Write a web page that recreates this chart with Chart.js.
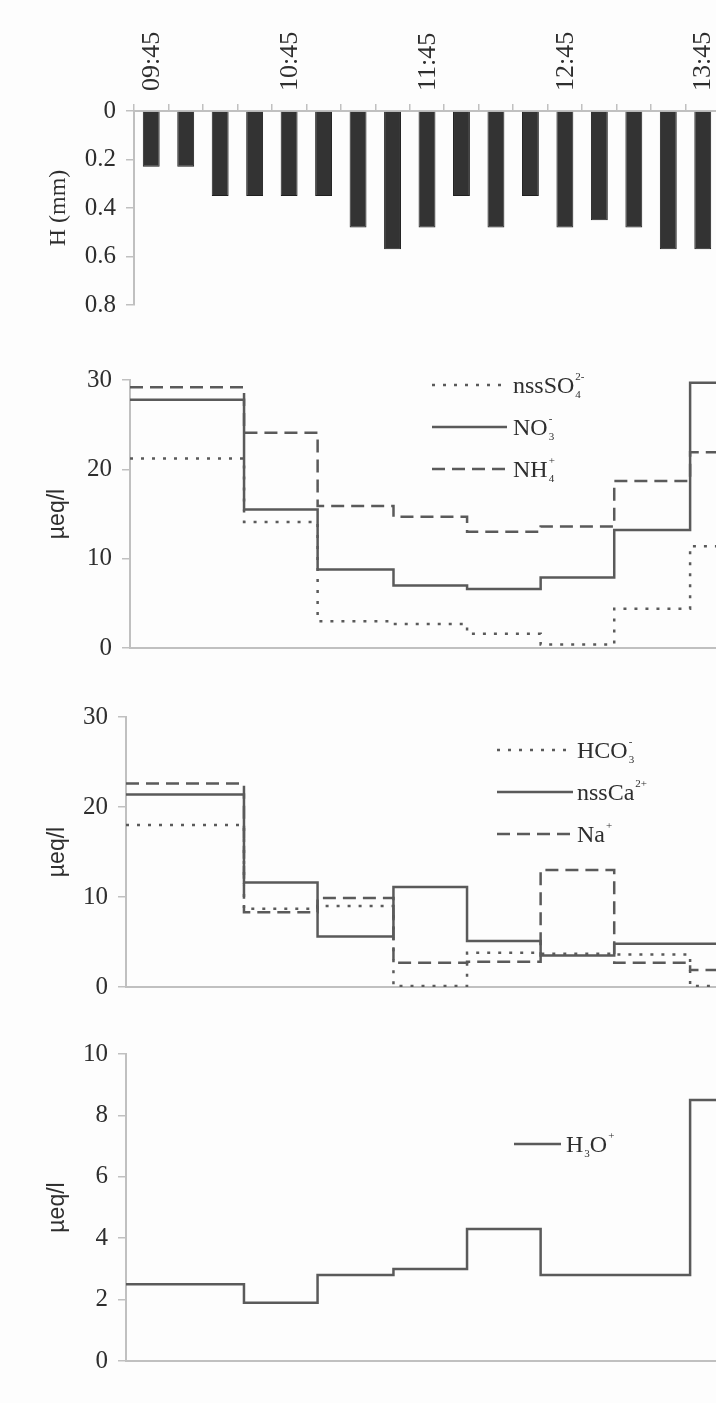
<!DOCTYPE html>
<html>
<head>
<meta charset="utf-8">
<script src="https://cdn.jsdelivr.net/npm/chart.js@4.4.1/dist/chart.umd.min.js"></script>
<style>
  html, body { margin: 0; padding: 0; background: #fdfdfd; overflow: hidden; }
  #wrap { position: relative; width: 716px; height: 1403px; overflow: hidden; }
  canvas { position: absolute; left: 0; }
</style>
</head>
<body>
<div id="wrap">
  <canvas id="rainChart" width="720" height="330" style="top:0px"></canvas>
  <canvas id="nChart" width="720" height="350" style="top:330px"></canvas>
  <canvas id="caChart" width="720" height="340" style="top:680px"></canvas>
  <canvas id="hChart" width="720" height="383" style="top:1020px"></canvas>
</div>
<script>
// ==============================
// DATA
// ==============================
const barTimes = ['09:45', '10:00', '10:15', '10:30', '10:45', '11:00', '11:15', '11:30', '11:45',
                  '12:00', '12:15', '12:30', '12:45', '13:00', '13:15', '13:30', '13:45'];
const rainMm = [0.23, 0.23, 0.35, 0.35, 0.35, 0.35, 0.48, 0.57, 0.48,
                0.35, 0.48, 0.35, 0.48, 0.45, 0.48, 0.57, 0.57];

// sample changes, minutes after 09:45
const sampleEdges = [40, 72, 105, 137, 169, 201, 234];

const nssSO4 = [21.2, 14.1, 3.0, 2.7, 1.6, 0.4, 4.4, 11.4];
const NO3 = [27.8, 15.5, 8.8, 7.0, 6.6, 7.9, 13.2, 29.7];
const NH4 = [29.2, 24.1, 15.9, 14.7, 13.0, 13.6, 18.7, 21.9];

const HCO3 = [18.0, 8.7, 9.0, 0.1, 3.8, 3.7, 3.6, 0.1];
const nssCa = [21.4, 11.6, 5.6, 11.1, 5.1, 3.5, 4.8, 4.8];
const Na = [22.6, 8.3, 9.9, 2.7, 2.8, 13.0, 2.7, 1.9];

const H3O = [2.5, 1.9, 2.8, 3.0, 4.3, 2.8, 2.8, 8.5];

// ==============================
// STYLE
// ==============================
const serif = "'Liberation Serif', 'Times New Roman', serif";
const sans = "'Liberation Sans', Arial, sans-serif";
const axisGray = '#c0c0c0';
const lineGray = '#5a5a5a';
const textGray = '#2e2e2e';
const SOLID = [];
const DASHED = [13, 7];
const DOTTED = [3, 8];

Chart.defaults.animation = false;
Chart.defaults.font.family = serif;
Chart.defaults.color = textGray;

// ==============================
// HELPERS
// ==============================
function stepPoints(values, xMin, xMax) {
    const pts = [{ x: xMin, y: values[0] }];
    sampleEdges.forEach((edge, i) => pts.push({ x: edge, y: values[i + 1] }));
    pts.push({ x: xMax, y: values[values.length - 1] });
    return pts;
}

function stepDataset(label, legendText, values, dash, xMin, xMax) {
    return {
        label: label,
        legendText: legendText,
        data: stepPoints(values, xMin, xMax),
        stepped: true,
        borderColor: lineGray,
        borderWidth: 2.5,
        borderDash: dash,
        pointRadius: 0,
        fill: false
    };
}

// "NO_{3}^{-}" -> text with stacked sub/superscript
function drawIonLabel(ctx, markup, x, y) {
    const parts = markup.split(/([_^]\{[^}]*\})/).filter(Boolean);
    const base = y + 8;
    let cursor = x;
    let scriptStart = null;
    let scriptEnd = x;
    ctx.save();
    ctx.fillStyle = textGray;
    ctx.textBaseline = 'alphabetic';
    ctx.textAlign = 'left';
    parts.forEach(p => {
        if (p[0] === '_' || p[0] === '^') {
            const txt = p.slice(2, -1);
            ctx.font = `11px ${serif}`;
            if (scriptStart === null) scriptStart = cursor + 1;
            ctx.fillText(txt, scriptStart, p[0] === '_' ? base + 5 : base - 13);
            scriptEnd = Math.max(scriptEnd, scriptStart + ctx.measureText(txt).width);
        } else {
            if (scriptStart !== null) { cursor = scriptEnd; scriptStart = null; }
            ctx.font = `24px ${serif}`;
            ctx.fillText(p, cursor, base);
            cursor += ctx.measureText(p).width;
        }
    });
    ctx.restore();
}

const legendLines = {
    id: 'legendLines',
    afterDatasetsDraw(chart, args, opts) {
        if (!opts || !opts.rows) return;
        const ctx = chart.ctx;
        chart.data.datasets.forEach((ds, i) => {
            const y = opts.rows[i];
            ctx.save();
            ctx.strokeStyle = ds.borderColor;
            ctx.lineWidth = ds.borderWidth;
            ctx.setLineDash(ds.borderDash || []);
            ctx.beginPath();
            ctx.moveTo(opts.x0, y);
            ctx.lineTo(opts.x1, y);
            ctx.stroke();
            ctx.restore();
            drawIonLabel(ctx, ds.legendText, opts.textX, y);
        });
    }
};
Chart.register(legendLines);

function stepOptions(cfg) {
    return {
        responsive: false,
        animation: false,
        layout: { padding: { top: cfg.padTop, bottom: cfg.padBottom, left: 0, right: 0 } },
        plugins: {
            legend: { display: false },
            tooltip: { enabled: false },
            legendLines: cfg.legend
        },
        scales: {
            x: {
                type: 'linear',
                min: cfg.xMin,
                max: cfg.xMax,
                ticks: { display: false },
                grid: { display: false },
                border: { display: true, color: axisGray, width: 2 },
                afterFit: s => { s.height = 0; }
            },
            y: {
                min: 0,
                max: cfg.yMax,
                ticks: { stepSize: cfg.yStep, padding: 10, font: { size: 25 }, color: textGray },
                grid: { drawOnChartArea: false, drawTicks: true, tickLength: 8, color: axisGray, lineWidth: 1.5 },
                border: { display: true, color: axisGray, width: 2 },
                title: {
                    display: true,
                    text: 'µeq/l',
                    font: { family: sans, size: 23 },
                    color: textGray,
                    padding: { top: 44, bottom: 0 }
                },
                afterFit: s => { s.width = cfg.axisX; }
            }
        }
    };
}

// ==============================
// RAINFALL BARS
// ==============================
new Chart(document.getElementById('rainChart'), {
    type: 'bar',
    data: {
        labels: barTimes,
        datasets: [{
            label: 'H (mm)',
            data: rainMm,
            backgroundColor: '#333333',
            borderColor: '#1f1f1f',
            borderWidth: 1,
            barPercentage: 0.49,
            categoryPercentage: 1
        }]
    },
    options: {
        responsive: false,
        layout: { padding: { top: 0, bottom: 23, left: 0, right: 0 } },
        plugins: { legend: { display: false }, tooltip: { enabled: false } },
        scales: {
            x: {
                position: 'top',
                ticks: {
                    autoSkip: false,
                    minRotation: 90,
                    maxRotation: 90,
                    padding: 13,
                    labelOffset: 32,
                    font: { size: 26 },
                    color: textGray,
                    callback: (v, i) => (i % 4 === 0 ? barTimes[i] : '')
                },
                grid: { offset: true, drawOnChartArea: false, drawTicks: true, tickLength: 7, color: axisGray, lineWidth: 1.5 },
                border: { display: true, color: axisGray, width: 2 },
                afterFit: s => { s.height = 111; s.paddingLeft = 0; s.paddingRight = 0; }
            },
            y: {
                reverse: true,
                min: 0,
                max: 0.8,
                ticks: { stepSize: 0.2, padding: 10, font: { size: 25 }, color: textGray },
                grid: { drawOnChartArea: false, drawTicks: true, tickLength: 8, color: axisGray, lineWidth: 1.5 },
                border: { display: true, color: axisGray, width: 2 },
                title: {
                    display: true,
                    text: 'H (mm)',
                    font: { family: serif, size: 24 },
                    color: textGray,
                    padding: { top: 44, bottom: 0 }
                },
                afterFit: s => { s.width = 134; }
            }
        }
    }
});

// ==============================
// NITROGEN / SULPHATE
// ==============================
new Chart(document.getElementById('nChart'), {
    type: 'line',
    data: {
        datasets: [
            stepDataset('nssSO₄²⁻', 'nssSO_{4}^{2-}', nssSO4, DOTTED, -9.6, 247),
            stepDataset('NO₃⁻', 'NO_{3}^{-}', NO3, SOLID, -9.6, 247),
            stepDataset('NH₄⁺', 'NH_{4}^{+}', NH4, DASHED, -9.6, 247)
        ]
    },
    options: stepOptions({
        padTop: 50, padBottom: 32, axisX: 130, xMin: -9.6, xMax: 247, yMax: 30, yStep: 10,
        legend: { x0: 432, x1: 507, textX: 513, rows: [55, 97, 139] }
    })
});

// ==============================
// CARBONATE / CALCIUM / SODIUM
// ==============================
new Chart(document.getElementById('caChart'), {
    type: 'line',
    data: {
        datasets: [
            stepDataset('HCO₃⁻', 'HCO_{3}^{-}', HCO3, DOTTED, -11.3, 247),
            stepDataset('nssCa²⁺', 'nssCa^{2+}', nssCa, SOLID, -11.3, 247),
            stepDataset('Na⁺', 'Na^{+}', Na, DASHED, -11.3, 247)
        ]
    },
    options: stepOptions({
        padTop: 37, padBottom: 33, axisX: 126, xMin: -11.3, xMax: 247, yMax: 30, yStep: 10,
        legend: { x0: 497, x1: 573, textX: 577, rows: [70, 112, 154] }
    })
});

// ==============================
// H3O+
// ==============================
new Chart(document.getElementById('hChart'), {
    type: 'line',
    data: {
        datasets: [
            stepDataset('H₃O⁺', 'H_{3}O^{+}', H3O, SOLID, -11.3, 247)
        ]
    },
    options: stepOptions({
        padTop: 34, padBottom: 42, axisX: 126, xMin: -11.3, xMax: 247, yMax: 10, yStep: 2,
        legend: { x0: 514, x1: 561, textX: 566, rows: [124] }
    })
});
</script>
</body>
</html>
